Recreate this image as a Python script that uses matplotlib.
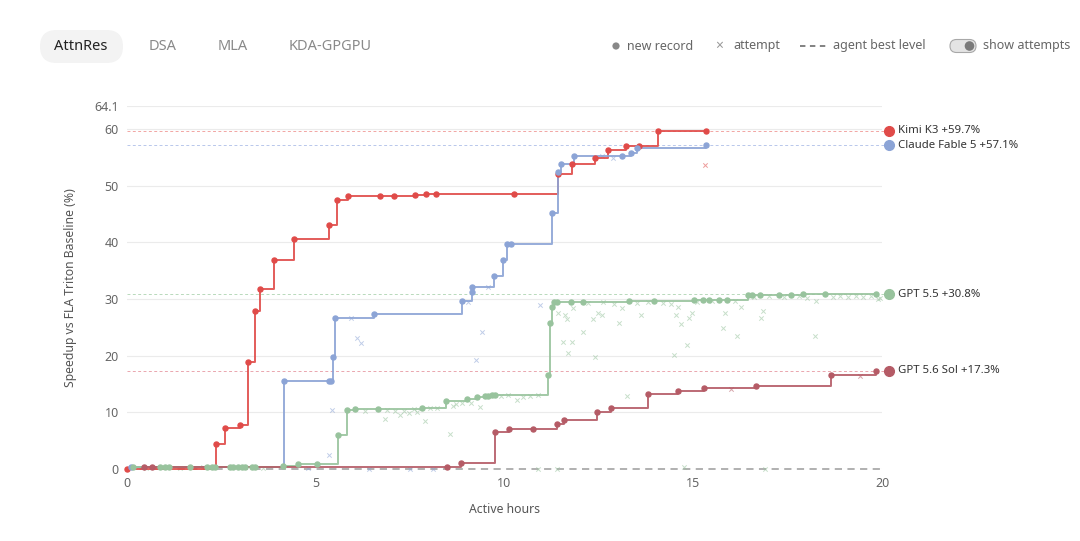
import matplotlib

matplotlib.use("Agg")
import matplotlib.pyplot as plt
from matplotlib.patches import FancyBboxPatch, Circle

plt.rcParams["font.family"] = ["Noto Sans", "DejaVu Sans"]

# ---- data (hours, speedup %) ----
kimi_h = [0.0, 2.37, 2.60, 3.00, 3.21, 3.38, 3.53, 3.89, 4.42, 5.35, 5.55, 5.85,
          6.69, 7.06, 7.64, 7.92, 8.19, 10.24, 11.43, 11.80, 12.41, 12.74, 13.21,
          13.55, 14.06, 15.33]
kimi_v = [0.0, 4.4, 7.3, 7.7, 18.8, 27.8, 31.7, 36.9, 40.6, 43.0, 47.5, 48.1,
          48.1, 48.2, 48.4, 48.5, 48.6, 48.6, 52.0, 53.8, 54.8, 56.3, 57.0,
          57.0, 59.6, 59.7]
kimi_att_h = [15.32]
kimi_att_v = [53.6]

claude_h = [0.1, 4.15, 5.34, 5.41, 5.45, 5.51, 6.53, 8.88, 9.14, 9.15, 9.73, 9.97,
            10.07, 10.17, 11.25, 11.42, 11.50, 11.85, 13.11, 13.36, 13.52, 15.35]
claude_v = [0.3, 15.6, 15.6, 15.6, 19.7, 26.7, 27.4, 29.6, 31.3, 32.1, 34.0, 36.9,
            39.7, 39.7, 45.2, 52.4, 53.8, 55.3, 55.3, 55.8, 56.7, 57.1]
claude_att_h = [5.93, 6.10, 6.20, 5.44, 5.34, 9.03, 9.57, 9.40, 9.24, 10.94,
                12.57, 12.88, 6.41, 4.8, 7.5, 8.1]
claude_att_v = [26.7, 23.2, 22.2, 10.4, 2.5, 29.5, 32.1, 24.2, 19.2, 28.9,
                55.3, 54.8, 0.0, 0.1, 0.0, 0.0]

gpt55_h = [0.15, 0.87, 1.01, 1.12, 1.67, 2.11, 2.24, 2.33, 2.73, 2.82, 2.95, 3.04,
           3.13, 3.31, 3.39, 4.14, 4.52, 5.03, 5.58, 5.83, 6.03, 6.66, 7.82, 8.45,
           9.01, 9.28, 9.49, 9.57, 9.66, 9.75, 11.16, 11.20, 11.26, 11.30, 11.40,
           11.75, 12.09, 13.31, 13.97, 15.03, 15.26, 15.42, 15.68, 15.90, 16.45,
           16.55, 16.76, 17.28, 17.58, 17.92, 18.49, 19.85]
gpt55_v = [0.4, 0.4, 0.4, 0.4, 0.4, 0.4, 0.4, 0.4, 0.4, 0.4, 0.4, 0.4,
           0.4, 0.4, 0.4, 0.5, 0.8, 0.9, 6.0, 10.4, 10.5, 10.5, 10.8, 12.0,
           12.3, 12.7, 12.9, 12.9, 13.0, 13.0, 16.6, 25.7, 28.6, 29.5, 29.5,
           29.5, 29.5, 29.6, 29.6, 29.8, 29.9, 29.9, 29.9, 29.9, 30.7,
           30.7, 30.7, 30.7, 30.7, 30.8, 30.8, 30.8]
gpt55_att_h = [6.84, 7.23, 7.48, 7.67, 7.89, 8.03, 8.55, 8.64, 8.72, 8.87, 9.10,
               9.35, 10.32, 10.50, 10.68, 6.30, 6.90, 7.10, 7.35, 7.60, 8.20, 9.90,
               10.10, 10.90, 11.43, 11.59, 11.65, 11.56, 11.79, 11.68, 11.81, 12.07,
               12.35, 12.41, 12.49, 12.57, 13.02, 13.10, 13.24, 13.62, 14.49, 14.54,
               14.59, 14.67, 14.83, 14.90, 14.98, 15.78, 15.85, 16.17, 16.27, 16.80,
               16.85, 18.22, 18.25, 19.90, 12.20, 12.60, 12.90, 13.50, 13.80, 14.20,
               14.40, 15.10, 15.50, 16.10, 16.60, 17.00, 17.40, 17.80, 18.00, 18.70,
               18.90, 19.10, 19.30, 19.50, 19.70, 19.95, 14.75, 10.90, 11.40, 16.90,
               0.5, 1.4, 2.0, 3.6]
gpt55_att_v = [8.9, 9.5, 9.9, 10.1, 8.5, 10.7, 6.1, 11.1, 11.5, 11.7, 11.6,
               11.0, 12.2, 12.7, 12.9, 10.3, 10.4, 10.3, 10.2, 10.6, 10.7, 12.9,
               13.0, 13.0, 27.6, 27.2, 26.4, 22.4, 22.4, 20.5, 28.4, 24.1,
               26.5, 19.8, 27.6, 27.2, 25.7, 28.4, 12.9, 27.1, 20.2, 27.1,
               28.5, 25.6, 21.8, 26.7, 27.6, 24.8, 27.6, 23.5, 28.6, 26.7,
               27.9, 23.5, 29.6, 30.0, 29.3, 29.4, 29.2, 29.3, 29.4, 29.3,
               29.2, 29.5, 29.6, 29.6, 30.3, 30.5, 30.4, 30.5, 30.2, 30.4,
               30.5, 30.3, 30.6, 30.4, 30.5, 30.2, 0.3, 0.0, 0.0, 0.0,
               0.2, 0.2, 0.3, 0.2]

sol_h = [0.46, 0.67, 8.48, 8.85, 9.76, 10.13, 10.76, 11.39, 11.57, 12.46, 12.83,
         13.81, 14.59, 15.28, 16.66, 18.64, 19.83]
sol_v = [0.3, 0.3, 0.3, 1.0, 6.6, 7.1, 7.1, 7.9, 8.7, 10.0, 10.8,
         13.3, 13.7, 14.3, 14.6, 16.6, 17.3]
sol_att_h = [16.0, 19.41]
sol_att_v = [14.2, 16.4]

agents = ["Kimi K3", "Claude Fable 5", "GPT 5.5", "GPT 5.6 Sol"]
best = [59.7, 57.1, 30.8, 17.3]
colors = ["#e04b49", "#8ca4d6", "#98c39d", "#b55b66"]
level_colors = ["#ef8f8c", "#a6b9e6", "#a6d0aa", "#e48f99"]

tabs = ["AttnRes", "DSA", "MLA", "KDA-GPGPU"]

series = [
    (kimi_h, kimi_v, kimi_att_h, kimi_att_v),
    (claude_h, claude_v, claude_att_h, claude_att_v),
    (gpt55_h, gpt55_v, gpt55_att_h, gpt55_att_v),
    (sol_h, sol_v, sol_att_h, sol_att_v),
]

W, H = 1080, 541
fig = plt.figure(figsize=(W / 100, H / 100), dpi=100)
ax = fig.add_axes([127 / W, 72 / H, 755 / W, 363.3 / H])

ax.set_xlim(0, 20)
ax.set_ylim(0, 64.1)
ax.set_yticks([0, 10, 20, 30, 40, 50, 60, 64.1])
ax.set_yticklabels(["0", "10", "20", "30", "40", "50", "60", "64.1"])
ax.set_xticks([0, 5, 10, 15, 20])
ax.grid(axis="y", color="#ebebeb", lw=0.8)
ax.set_axisbelow(True)
for s in ax.spines.values():
    s.set_visible(False)
ax.tick_params(length=0, labelsize=9, labelcolor="#666666", pad=6)
ax.set_xlabel("Active hours", fontsize=8.8, color="#555555", labelpad=9)
ax.set_ylabel("Speedup vs FLA Triton Baseline (%)", fontsize=8.8,
              color="#555555", labelpad=12)

# grey baseline level
ax.plot([0, 20], [0, 0], color="#aaaaaa", lw=1.3, ls=(0, (4, 3)), zorder=1,
        clip_on=False)

# agent best levels
for b, lc in zip(best, level_colors):
    ax.plot([0, 20.15], [b, b], color=lc, lw=0.7, alpha=0.8, ls=(0, (3, 2.5)),
            zorder=1, clip_on=False)

# attempts first, then record steps
for (rh, rv, ah, av), c in zip(series, colors):
    ax.scatter(ah, av, marker="x", s=10, lw=0.7, color=c, alpha=0.55, zorder=2,
               clip_on=False)
for (rh, rv, ah, av), c in zip(series, colors):
    ax.plot(rh, rv, drawstyle="steps-post", color=c, lw=1.4, alpha=0.9, zorder=3,
            clip_on=False)
    ax.plot(rh, rv, "o", ms=3.6, color=c, zorder=4, clip_on=False)

# right-hand labels
for name, b, c in zip(agents, best, colors):
    ax.plot([20.19], [b], "o", ms=7, color=c, clip_on=False, zorder=5)
    ax.text(20.42, b, f"{name} +{b}%", fontsize=8.2, color="#333333",
            va="center", ha="left", clip_on=False)

# header overlay drawn in pixel coordinates
hdr = fig.add_axes([0, 0, 1, 1], zorder=-1)
hdr.set_xlim(0, W)
hdr.set_ylim(H, 0)
hdr.axis("off")

hdr.add_patch(FancyBboxPatch((40, 30), 83, 33,
                             boxstyle="round,pad=0,rounding_size=16.5",
                             facecolor="#f3f3f3", edgecolor="none"))
tab_x = [81, 163, 233, 330]
for i, (label, cx) in enumerate(zip(tabs, tab_x)):
    hdr.text(cx, 47, label, fontsize=10.5,
             fontweight="bold" if i == 0 else "normal",
             color="#222222" if i == 0 else "#8a8a8a",
             ha="center", va="center")

hdr.add_patch(Circle((616, 46), 3.6, facecolor="#888888", edgecolor="none"))
hdr.text(627, 46, "new record", fontsize=9, color="#666666", va="center")
hdr.text(719, 46, "\u00d7", fontsize=10, color="#999999", va="center",
         ha="center")
hdr.text(733, 46, "attempt", fontsize=9, color="#666666", va="center")
hdr.plot([800, 826], [46, 46], color="#777777", lw=1.3, ls=(0, (3, 2.5)))
hdr.text(833, 46, "agent best level", fontsize=9, color="#666666", va="center")
hdr.add_patch(FancyBboxPatch((950, 39.5), 26, 13,
                             boxstyle="round,pad=0,rounding_size=6.5",
                             facecolor="#e4e4e4", edgecolor="#a8a8a8", lw=0.8))
hdr.add_patch(Circle((969.5, 46), 4.8, facecolor="#7a7a7a", edgecolor="none"))
hdr.text(983, 46, "show attempts", fontsize=9, color="#666666", va="center")

fig.savefig("out.png", dpi=100)
